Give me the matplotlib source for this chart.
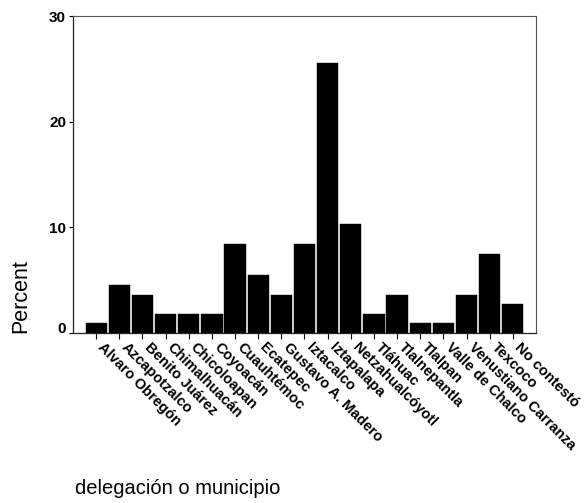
import matplotlib
matplotlib.use("Agg")
import matplotlib.pyplot as plt
import matplotlib.transforms as mtransforms

# ============================================================================================================
# Data

categories = [
    "Alvaro Obregón", "Azcapotzalco", "Benito Juárez", "Chimalhuacán",
    "Chicoloapan", "Coyoacán", "Cuauhtémoc", "Ecatepec", "Gustavo A. Madero",
    "Iztacalco", "Iztapalapa", "Netzahualcóyotl", "Tláhuac", "Tlalnepantla",
    "Tlalpan", "Valle de Chalco", "Venustiano Carranza", "Texcoco", "No contestó",
]
percent = [0.9, 4.5, 3.6, 1.8, 1.8, 1.8, 8.4, 5.5, 3.6, 8.4,
           25.6, 10.3, 1.8, 3.6, 0.9, 0.9, 3.6, 7.5, 2.7]
y_ticks = [0, 10, 20, 30]

# ============================================================================================================
# Plot

plt.rcParams["font.family"] = ["Liberation Sans", "DejaVu Sans"]

fig = plt.figure(figsize=(5.85, 5.03), dpi=100)
ax = fig.add_axes([0.1248, 0.338, 0.7914, 0.630])

x = list(range(len(categories)))
ax.bar(x, percent, width=0.92, color="black", edgecolor="black", linewidth=0.3)

ax.set_xlim(-1, len(categories))
ax.set_ylim(0, 30)
ax.set_yticks(y_ticks)
ax.set_yticklabels([str(t) for t in y_ticks], fontsize=11, fontweight="bold")
ax.tick_params(axis="y", length=3, width=0.8, pad=2)

ax.set_xticks(x)
ax.set_xticklabels(categories, rotation=-45, ha="left", va="center",
                   rotation_mode="anchor", fontsize=10.5, fontweight="bold")
ax.tick_params(axis="x", length=4, width=0.8, pad=5)

# labels start a little right of their tick in the original
shift = mtransforms.ScaledTranslation(4 / 100, 0, fig.dpi_scale_trans)
for lbl in ax.get_xticklabels():
    lbl.set_transform(lbl.get_transform() + shift)

# SPSS puts the "0" slightly above the baseline tick
zero_lbl = ax.get_yticklabels()[0]
zero_lbl.set_transform(zero_lbl.get_transform() +
                       mtransforms.ScaledTranslation(0, 5 / 100, fig.dpi_scale_trans))

for side in ["left", "bottom"]:
    ax.spines[side].set_color("#222222")
    ax.spines[side].set_linewidth(0.9)
for side in ["top", "right"]:
    ax.spines[side].set_color("#555555")
    ax.spines[side].set_linewidth(0.8)

fig.text(21 / 585, 1 - 296 / 503, "Percent", rotation=90, ha="center", va="center", fontsize=15.5)
fig.text(75 / 585, 1 - 488 / 503, "delegación o municipio", ha="left", va="center", fontsize=14.5)

fig.savefig("out.png", dpi=100, facecolor="white")
